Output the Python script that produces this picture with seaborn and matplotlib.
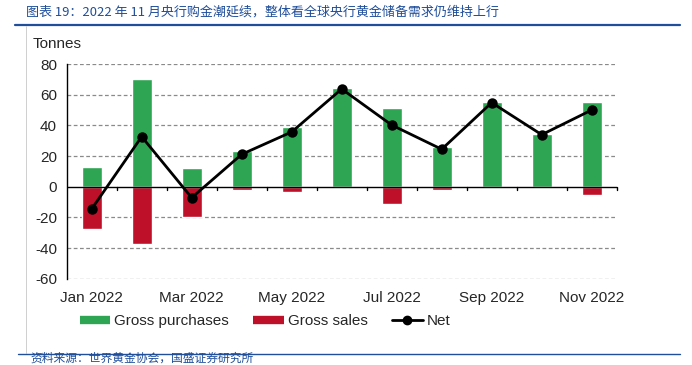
import matplotlib
matplotlib.use("Agg")
import matplotlib.pyplot as plt
from matplotlib.lines import Line2D
import seaborn as sns
import pandas as pd

months = ["Jan 2022", "Feb 2022", "Mar 2022", "Apr 2022", "May 2022", "Jun 2022",
          "Jul 2022", "Aug 2022", "Sep 2022", "Oct 2022", "Nov 2022"]
gross_purchases = [13.0, 70.0, 12.4, 23.3, 38.9, 64.2, 51.3, 26.1, 55.2, 34.2, 55.2]
gross_sales = [-27.6, -37.6, -19.8, -2.0, -3.5, 0.0, -11.3, -2.0, 0.0, 0.0, -5.4]
net = [-14.5, 32.6, -7.2, 21.1, 35.7, 63.7, 40.2, 24.4, 54.8, 33.9, 50.0]
yticks = [-60, -40, -20, 0, 20, 40, 60, 80]

title = "图表 19：2022 年 11 月央行购金潮延续，整体看全球央行黄金储备需求仍维持上行"
source = "资料来源：世界黄金协会，国盛证券研究所"

GREEN = "#2EA552"
RED = "#BE1028"
BLUE = "#1F4E9A"

sns.set_theme(style="white")
plt.rcParams['font.family'] = ['Liberation Sans', 'Noto Sans CJK SC', 'DejaVu Sans']

df = pd.DataFrame({"month": months, "purchases": gross_purchases,
                   "sales": gross_sales, "net": net})

fig = plt.figure(figsize=(6.92, 3.65), dpi=100)
ax = fig.add_axes([66.7 / 692, 1 - 278.7 / 365, 550 / 692, (278.7 - 64) / 365])

sns.barplot(data=df, x="month", y="purchases", color=GREEN, width=0.4,
            saturation=1, ax=ax, zorder=2)
sns.barplot(data=df, x="month", y="sales", color=RED, width=0.4,
            saturation=1, ax=ax, zorder=2)
sns.pointplot(data=df, x="month", y="net", color="black", markers="o",
              linestyles="-", ax=ax, markersize=6, linewidth=2, zorder=4)

ax.set_xlim(-0.5, 10.5)
ax.set_ylim(-60, 80)
ax.set_yticks(yticks)
ax.set_yticklabels([str(v) for v in yticks], fontsize=11)
ax.set_xticks(range(0, 11, 2))
ax.set_xticklabels([months[i] for i in range(0, 11, 2)], fontsize=11)
ax.tick_params(axis='x', length=0, pad=9)
ax.tick_params(axis='y', length=4, width=1, color='black', direction='out', pad=3)
ax.set_xlabel("")
ax.set_ylabel("")

for v in yticks:
    if v != 0:
        ax.axhline(v, color="#8a8a8a", lw=0.9, ls=(0, (3, 2)), zorder=0)
ax.axhline(0, color="black", lw=1.0, zorder=3)
for b in range(11):
    ax.plot([b + 0.5, b + 0.5], [0, -2.2], color="black", lw=1.0, zorder=3,
            clip_on=False)

for s in ["top", "right", "bottom"]:
    ax.spines[s].set_visible(False)
ax.spines["left"].set_color("black")
ax.spines["left"].set_linewidth(1.0)

fig.text(33 / 692, 1 - 44 / 365, "Tonnes", fontsize=11, va="center", ha="left")

handles = [Line2D([0], [0], color=GREEN, lw=6, solid_capstyle="butt"),
           Line2D([0], [0], color=RED, lw=6, solid_capstyle="butt"),
           Line2D([0], [0], color="black", lw=2, marker="o", markersize=6)]
fig.legend(handles, ["Gross purchases", "Gross sales", "Net"], loc="center",
           bbox_to_anchor=(265 / 692, 1 - 321 / 365), ncol=3, frameon=False,
           fontsize=11, handlelength=2.0, columnspacing=1.6, handletextpad=0.25)

fig.text(26 / 692, 1 - 12 / 365, title, fontsize=9.4, color=BLUE, style="italic",
         va="center", ha="left", family=['Noto Sans CJK SC', 'DejaVu Sans'])
fig.add_artist(Line2D([15 / 692, 680 / 692], [1 - 25 / 365, 1 - 25 / 365],
                      color=BLUE, lw=1.6))
fig.add_artist(Line2D([26 / 692, 26 / 692], [1 - 26 / 365, 1 - 353 / 365],
                      color="#c8c8c8", lw=0.6))
fig.add_artist(Line2D([18 / 692, 680 / 692], [1 - 354 / 365, 1 - 354 / 365],
                      color=BLUE, lw=1.0))
fig.text(30 / 692, 1 - 358.5 / 365, source, fontsize=8.5, color=BLUE, style="italic",
         va="center", ha="left", family=['Noto Sans CJK SC', 'DejaVu Sans'])

fig.savefig("out.png", dpi=100)
